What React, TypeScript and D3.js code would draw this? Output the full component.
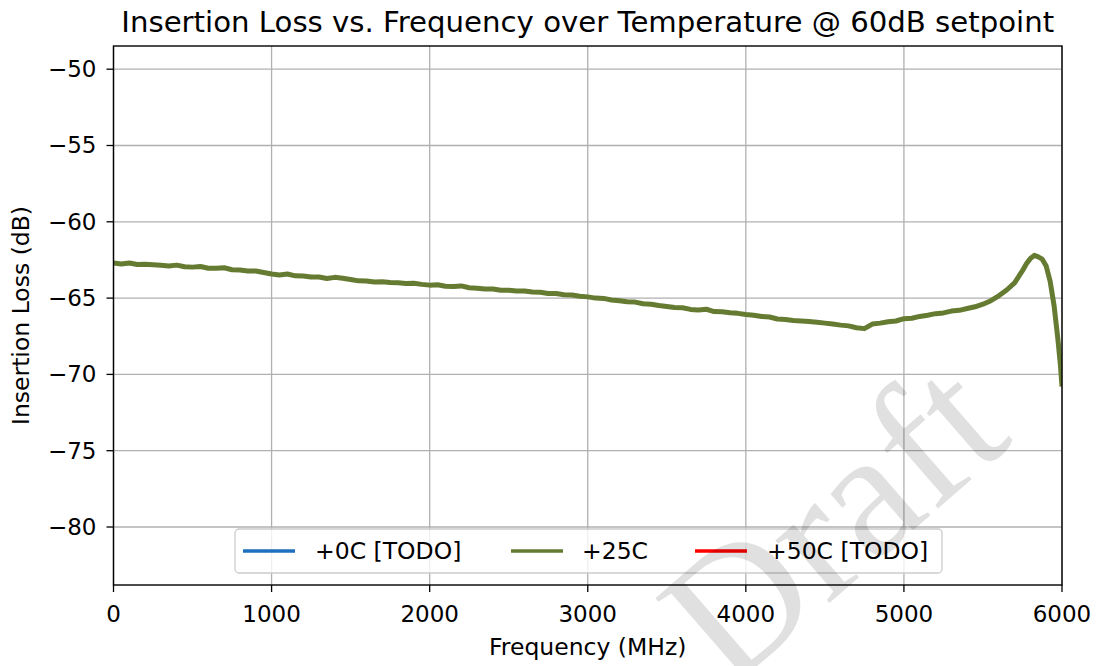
import React from 'react';
import * as d3 from 'd3';

// measured trace (+25C), 50 MHz steps up to 5750, then finer points around the peak
const baseFreq = d3.range(0, 5751, 50);
const baseLoss = [
  -62.70, -62.76, -62.70, -62.80, -62.78, -62.82, -62.85, -62.90, -62.84, -62.95,
  -62.97, -62.93, -63.04, -63.05, -63.01, -63.14, -63.16, -63.22, -63.22, -63.32,
  -63.42, -63.48, -63.42, -63.54, -63.55, -63.62, -63.62, -63.72, -63.64, -63.70,
  -63.78, -63.87, -63.88, -63.95, -63.93, -63.98, -64.00, -64.04, -64.03, -64.10,
  -64.15, -64.12, -64.22, -64.24, -64.20, -64.32, -64.35, -64.40, -64.40, -64.48,
  -64.48, -64.54, -64.53, -64.60, -64.62, -64.70, -64.70, -64.78, -64.80, -64.88,
  -64.92, -65.00, -65.02, -65.12, -65.18, -65.24, -65.26, -65.37, -65.40, -65.49,
  -65.55, -65.62, -65.63, -65.74, -65.78, -65.73, -65.88, -65.90, -65.96, -66.00,
  -66.07, -66.12, -66.20, -66.24, -66.37, -66.40, -66.47, -66.50, -66.54, -66.58,
  -66.64, -66.70, -66.77, -66.82, -66.94, -67.00, -66.70, -66.64, -66.55, -66.50,
  -66.35, -66.32, -66.20, -66.12, -66.02, -65.97, -65.85, -65.80, -65.68, -65.57,
  -65.40, -65.17, -64.85, -64.47, -64.00, -63.20
];
const peakFreq = [5775, 5800, 5825, 5850, 5875, 5900, 5925, 5950, 5975, 5990, 6000];
const peakLoss = [-62.75, -62.40, -62.20, -62.30, -62.45, -62.90, -63.90, -65.50, -67.80, -69.40, -70.80];

const series = [
  { label: '+0C [TODO]', color: '#1f6fbf' },
  { label: '+25C', color: '#667b32' },
  { label: '+50C [TODO]', color: '#ff0000' },
];

const xTicks = [0, 1000, 2000, 3000, 4000, 5000, 6000];
const yTicks = [-50, -55, -60, -65, -70, -75, -80];

const W = 1099, H = 666;
const m = { left: 113.5, right: 1062, top: 46, bottom: 585 };
const font = 'DejaVu Sans, sans-serif';

export default function App() {
  const x = d3.scaleLinear().domain([0, 6000]).range([m.left, m.right]);
  const y = d3.scaleLinear().domain([-83.8, -48.48]).range([m.bottom, m.top]);

  const pts: [number, number][] = baseFreq.map((f, i) => [f, baseLoss[i]] as [number, number])
    .concat(peakFreq.map((f, i) => [f, peakLoss[i]] as [number, number]));
  const line = d3.line<[number, number]>().x(d => x(d[0])).y(d => y(d[1]));
  const fmt = d3.format('d');

  const legendItems = [
    { lx: 243, tx: 315 },
    { lx: 511, tx: 582 },
    { lx: 695, tx: 767 },
  ];

  return (
    <svg width={W} height={H} style={{ position: 'absolute', left: 0, top: 0 }} fontFamily={font}>
      <rect width={W} height={H} fill="#fff" />
      <defs>
        <clipPath id="plot">
          <rect x={m.left} y={m.top} width={m.right - m.left} height={m.bottom - m.top} />
        </clipPath>
      </defs>
      {xTicks.map(t => (
        <line key={'gx' + t} x1={x(t)} x2={x(t)} y1={m.top} y2={m.bottom} stroke="#b0b0b0" strokeWidth={1.3} />
      ))}
      {yTicks.map(t => (
        <line key={'gy' + t} x1={m.left} x2={m.right} y1={y(t)} y2={y(t)} stroke="#b0b0b0" strokeWidth={1.3} />
      ))}
      <path d={line(pts) || ''} fill="none" stroke={series[1].color} strokeWidth={5} strokeLinejoin="round" clipPath="url(#plot)" />
      <rect x={m.left} y={m.top} width={m.right - m.left} height={m.bottom - m.top} fill="none" stroke="#000" strokeWidth={1.4} />
      {xTicks.map(t => (
        <g key={'tx' + t}>
          <line x1={x(t)} x2={x(t)} y1={m.bottom} y2={m.bottom + 7} stroke="#000" strokeWidth={1.3} />
          <text x={x(t)} y={m.bottom + 37} fontSize={23} textAnchor="middle">{fmt(t)}</text>
        </g>
      ))}
      {yTicks.map(t => (
        <g key={'ty' + t}>
          <line x1={m.left - 7} x2={m.left} y1={y(t)} y2={y(t)} stroke="#000" strokeWidth={1.3} />
          <text x={m.left - 17} y={y(t) + 8} fontSize={23} textAnchor="end">{fmt(t).replace('-', '\u2212')}</text>
        </g>
      ))}
      <text x={(m.left + m.right) / 2} y={32} fontSize={29.2} textAnchor="middle">
        Insertion Loss vs. Frequency over Temperature @ 60dB setpoint
      </text>
      <text x={(m.left + m.right) / 2} y={655} fontSize={23.5} textAnchor="middle">Frequency (MHz)</text>
      <text transform={`translate(29,${(m.top + m.bottom) / 2}) rotate(-90)`} fontSize={23.5} textAnchor="middle">
        Insertion Loss (dB)
      </text>
      <rect x={235} y={529} width={707} height={44} rx={4} fill="#fff" fillOpacity={0.8} stroke="#cccccc" strokeWidth={1.3} />
      {series.map((s, i) => (
        <g key={s.label}>
          <line x1={legendItems[i].lx} x2={legendItems[i].lx + 52} y1={551} y2={551} stroke={s.color} strokeWidth={3.5} />
          <text x={legendItems[i].tx} y={559} fontSize={23.5}>{s.label}</text>
        </g>
      ))}
      <text transform="translate(872,566) rotate(-41)" fontFamily="Liberation Serif, serif" fontSize={180}
        textAnchor="middle" fill="#000" fillOpacity={0.12}>Draft</text>
    </svg>
  );
}
